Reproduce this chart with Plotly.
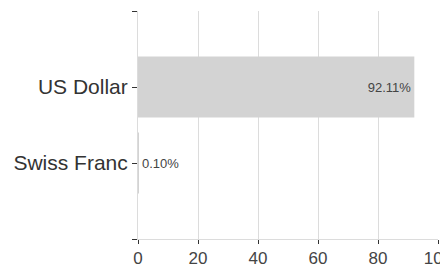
import plotly.graph_objects as go

categories = ["Swiss Franc", "US Dollar"]
values = [0.10, 92.11]
x_ticks = [0, 20, 40, 60, 80, 100]

positions = list(range(len(categories)))
labels = [f"{v:.2f}%" for v in values]
textpos = ["inside" if v > 10 else "outside" for v in values]

fig = go.Figure(go.Bar(
    y=positions, x=values, orientation="h", width=0.8,
    marker=dict(color="#d3d3d3", line=dict(width=0)),
    text=labels, textposition=textpos, insidetextanchor="end",
    textfont=dict(family="Liberation Sans, Arial", size=13, color="#444"),
    cliponaxis=False,
))

fig.update_layout(
    width=440, height=262,
    margin=dict(l=130, r=10, t=3, b=31, autoexpand=False),
    paper_bgcolor="white", plot_bgcolor="white",
    showlegend=False,
    font=dict(family="Liberation Sans, Arial", color="#333"),
    xaxis=dict(range=[0, 100], tickvals=x_ticks, showgrid=True, gridcolor="#dcdcdc",
               zeroline=False, ticks="outside", ticklen=4, tickcolor="#333",
               tickfont=dict(size=17, color="#444"), showline=True, linecolor="#dcdcdc",
               automargin=False, ticklabeloverflow="allow"),
    yaxis=dict(range=[-1, 2], tickvals=[-1] + positions + [2],
               ticktext=[""] + categories + [""],
               showgrid=False, zeroline=False, ticks="outside", ticklen=5, tickcolor="#333",
               showline=True, linecolor="#dcdcdc",
               tickfont=dict(size=21, color="#333"), automargin=False),
)

fig.write_html("out.html")
